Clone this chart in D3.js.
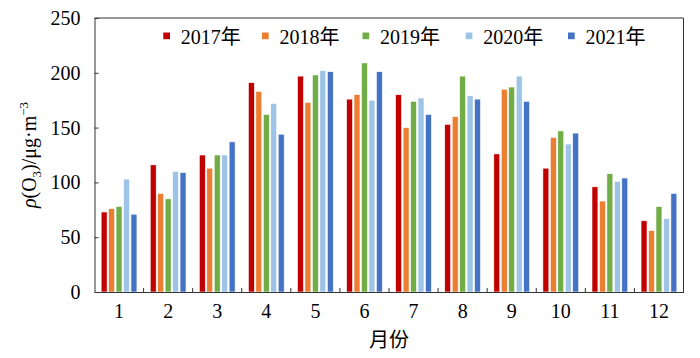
<!DOCTYPE html>
<html><head><meta charset="utf-8">
<script src="https://cdn.jsdelivr.net/npm/d3@7"></script>
<style>
body{margin:0;background:#fff}
svg{display:block}
svg text{font-family:"Liberation Serif","DejaVu Serif","Noto Sans CJK SC",serif !important;fill:#000}
</style></head><body>
<script>
const months = ["1","2","3","4","5","6","7","8","9","10","11","12"];
const years = ["2017年","2018年","2019年","2020年","2021年"];
const v2017 = [73,116,125,191,197,176,180,153,126,113,96,65];
const v2018 = [76,90,113,183,173,180,150,160,185,141,83,56];
const v2019 = [78,85,125,162,198,209,174,197,187,147,108,78];
const v2020 = [103,110,125,172,202,175,177,179,197,135,101,67];
const v2021 = [71,109,137,144,201,201,162,176,174,145,104,90];
const colors = ["#C00000","#ED7D31","#70AD47","#9DC3E6","#4472C4"];
const yTicks = [0,50,100,150,200,250];

const series = [v2017,v2018,v2019,v2020,v2021];
const W = 700, H = 358;
const L = 94.5, R = 683.5, T = 18, B = 292;

const svg = d3.select("body").append("svg").attr("width",W).attr("height",H);

const x0 = d3.scaleBand().domain(months).range([L,R]).padding(0);
const x1 = d3.scaleBand().domain(years).range([5.9, x0.bandwidth()-5.9]).paddingInner(0.2).paddingOuter(0.1);
const y = d3.scaleLinear().domain([0,250]).range([B,T]);

const g = svg.append("g");
months.forEach((m,i)=>{
  const gg = g.append("g").attr("transform",`translate(${x0(m)},0)`);
  gg.selectAll("rect").data(years.map((yr,j)=>({yr, v:series[j][i], c:colors[j]})))
    .join("rect")
    .attr("x",d=>x1(d.yr))
    .attr("width",x1.bandwidth())
    .attr("y",d=>y(d.v))
    .attr("height",d=>B-y(d.v))
    .attr("fill",d=>d.c)
    .attr("stroke","#fff").attr("stroke-width",0.6);
});

svg.append("path").attr("d",`M${L},${T}H${R}V${B}`).attr("fill","none").attr("stroke","#333").attr("stroke-width",1);

const ya = svg.append("g").attr("transform",`translate(${L},0)`)
  .call(d3.axisLeft(y).tickValues(yTicks).tickSize(-4).tickPadding(14));
ya.attr("font-family",null);
ya.select(".domain").attr("stroke","#333");
ya.selectAll(".tick line").attr("stroke","#333");
ya.selectAll("text").style("font-size","20px");

const xa = svg.append("g").attr("transform",`translate(0,${B})`)
  .call(d3.axisBottom(x0).tickSize(0).tickPadding(12));
xa.attr("font-family",null);
xa.select(".domain").attr("stroke","#333");
xa.selectAll("text").style("font-size","20px");
svg.append("g").selectAll("line").data(months.slice(1))
  .join("line")
  .attr("x1",d=>x0(d)).attr("x2",d=>x0(d))
  .attr("y1",B).attr("y2",B-4)
  .attr("stroke","#333");

svg.append("text").attr("x",(L+R)/2).attr("y",347).attr("text-anchor","middle")
  .style("font-size","20px").text("月份");

const yt = svg.append("text").attr("transform",`translate(36,${(T+B)/2}) rotate(-90)`)
  .attr("text-anchor","middle").style("font-size","20px");
yt.append("tspan").attr("font-style","italic").text("ρ");
yt.append("tspan").text("(O");
yt.append("tspan").attr("dy",5).style("font-size","13px").text("3");
yt.append("tspan").attr("dy",-5).text(")/μg·m");
yt.append("tspan").attr("dy",-8).style("font-size","13px").text("−3");

const lx = [163.3, 262, 362.5, 465.7, 568];
const lg = svg.append("g");
years.forEach((yr,j)=>{
  lg.append("rect").attr("x",lx[j]).attr("y",32.5).attr("width",6.7).attr("height",6.7).attr("fill",colors[j]);
  lg.append("text").attr("x",lx[j]+17.5).attr("y",43.5).style("font-size","20px").text(yr);
});
</script>
</body></html>
